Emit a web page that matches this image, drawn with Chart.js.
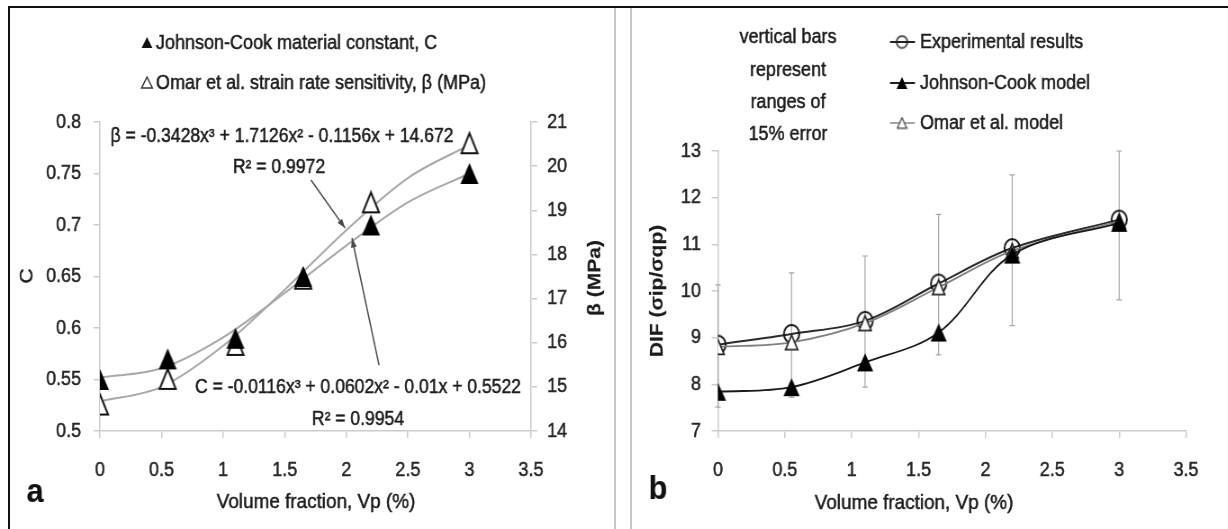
<!DOCTYPE html>
<html>
<head>
<meta charset="utf-8">
<script src="https://cdn.jsdelivr.net/npm/chart.js@4.4.0/dist/chart.umd.min.js"></script>
<style>
  body { margin: 0; background: #fff; width: 1228px; height: 529px; overflow: hidden; position: relative; }
  canvas { position: absolute; top: 0; transform: scaleX(0.9); transform-origin: 0 0; }
  #chartA { left: 0; }
  #chartB { left: 614px; }
  .ln { position: absolute; pointer-events: none; }
</style>
</head>
<body>
<canvas id="chartA" width="682" height="529"></canvas>
<canvas id="chartB" width="682" height="529"></canvas>
<div class="ln" style="left:8px;top:6px;width:1220px;height:2px;background:#111"></div>
<div class="ln" style="left:8px;top:6px;width:2px;height:523px;background:#111"></div>
<div class="ln" style="left:614px;top:8px;width:2px;height:521px;background:#c8c8c8"></div>
<div class="ln" style="left:630px;top:8px;width:2px;height:521px;background:#c8c8c8"></div>
<script>
// panel a data
const volFrac = [0, 0.55, 1.1, 1.65, 2.2, 3.0];
const jcConstC = [0.55, 0.57, 0.59, 0.65, 0.70, 0.75];
const omarBeta = [14.6, 15.18, 15.95, 17.45, 19.18, 20.52];
const trendX = [0, 0.5, 1, 1.5, 2, 2.5, 3];
const trendC = [0.552, 0.561, 0.591, 0.634, 0.680, 0.722, 0.750];
const trendBeta = [14.67, 15.0, 15.93, 17.2, 18.55, 19.73, 20.48];

// panel b data
const difExp = [8.85, 9.08, 9.36, 10.16, 10.92, 11.53];
const difJC = [7.84, 7.94, 8.47, 9.11, 10.78, 11.46];
const difOmar = [8.8, 8.9, 9.31, 10.08, 10.86, 11.5];
const errLow = [7.51, 7.72, 7.94, 8.63, 9.26, 9.81];
const errHigh = [10.13, 10.39, 10.75, 11.64, 12.49, 13.0];

// ticks
const xTicks = [0, 0.5, 1, 1.5, 2, 2.5, 3, 3.5];
const xTickLabels = ['0', '0.5', '1', '1.5', '2', '2.5', '3', '3.5'];
const cTicks = [0.5, 0.55, 0.6, 0.65, 0.7, 0.75, 0.8];
const cTickLabels = ['0.5', '0.55', '0.6', '0.65', '0.7', '0.75', '0.8'];
const betaTicks = [14, 15, 16, 17, 18, 19, 20, 21];
const betaTickLabels = ['14', '15', '16', '17', '18', '19', '20', '21'];
const difTicks = [7, 8, 9, 10, 11, 12, 13];
const difTickLabels = ['7', '8', '9', '10', '11', '12', '13'];

// canvases are squeezed horizontally by css (scaleX), like the original figure
const K = 0.9;
const FONT = '"Liberation Sans", Arial, sans-serif';
const INK = '#1c1c1c';
Chart.defaults.font.family = FONT;
Chart.defaults.font.size = 20;
Chart.defaults.color = '#262626';

function pts(xs, ys) { return xs.map((x, i) => ({ x: x, y: ys[i] })); }

// marker images
function triMark(w, h, fill, stroke, lw) {
  const c = document.createElement('canvas');
  c.width = w + 2 * lw; c.height = h + 2 * lw;
  const g = c.getContext('2d');
  g.beginPath();
  g.moveTo(c.width / 2, lw);
  g.lineTo(c.width - lw, c.height - lw);
  g.lineTo(lw, c.height - lw);
  g.closePath();
  g.fillStyle = fill; g.fill();
  if (stroke) { g.lineWidth = lw; g.strokeStyle = stroke; g.stroke(); }
  return c;
}
function ellMark(w, h, stroke, lw) {
  const c = document.createElement('canvas');
  c.width = w + 2 * lw; c.height = h + 2 * lw;
  const g = c.getContext('2d');
  g.beginPath();
  g.ellipse(c.width / 2, c.height / 2, w / 2, h / 2, 0, 0, Math.PI * 2);
  g.lineWidth = lw; g.strokeStyle = stroke; g.stroke();
  return c;
}

function axis(pos, min, max, ticks, labels, fit, pad) {
  return {
    type: 'linear', position: pos, min: min, max: max,
    afterBuildTicks: s => { s.ticks = ticks.map(v => ({ value: v })); },
    afterFit: fit,
    ticks: { callback: (v, i) => labels[i], padding: pad, color: '#262626',
             textStrokeColor: '#262626', textStrokeWidth: 0.5 },
    grid: { drawOnChartArea: false, drawTicks: true, tickLength: 7, color: '#cccccc', lineWidth: 1.5 },
    border: { color: '#cccccc', width: 1.5 }
  };
}

function txt(ctx, s, x, y, opt) {
  opt = opt || {};
  ctx.save();
  ctx.font = (opt.weight || 'normal') + ' ' + (opt.size || 20) + 'px ' + FONT;
  ctx.fillStyle = opt.color || INK;
  ctx.strokeStyle = opt.color || INK;
  ctx.lineWidth = opt.weight ? 0.2 : 0.5;
  ctx.textAlign = opt.align || 'center';
  ctx.textBaseline = 'middle';
  ctx.translate(x, y);
  if (opt.rot) ctx.rotate(opt.rot);
  ctx.fillText(s, 0, 0);
  ctx.strokeText(s, 0, 0);
  ctx.restore();
}

function arrow(ctx, x1, y1, x2, y2) {
  const a = Math.atan2(y2 - y1, x2 - x1);
  ctx.save();
  ctx.strokeStyle = '#4a4a4a'; ctx.fillStyle = '#4a4a4a'; ctx.lineWidth = 1.5;
  ctx.beginPath(); ctx.moveTo(x1, y1); ctx.lineTo(x2, y2); ctx.stroke();
  ctx.beginPath();
  ctx.moveTo(x2, y2);
  ctx.lineTo(x2 - 10 * Math.cos(a - 0.33), y2 - 10 * Math.sin(a - 0.33));
  ctx.lineTo(x2 - 10 * Math.cos(a + 0.33), y2 - 10 * Math.sin(a + 0.33));
  ctx.closePath(); ctx.fill();
  ctx.restore();
}

function smallTri(ctx, x, y, filled) {
  ctx.save();
  ctx.beginPath();
  ctx.moveTo(x, y - 6); ctx.lineTo(x + 6, y + 5); ctx.lineTo(x - 6, y + 5); ctx.closePath();
  if (filled) { ctx.fillStyle = '#111'; ctx.fill(); }
  else { ctx.strokeStyle = '#333'; ctx.lineWidth = 1.5; ctx.stroke(); }
  ctx.restore();
}

// ---- panel a ----
const XA = p => p / K;
const annotA = {
  id: 'annotA',
  afterDraw(chart) {
    const ctx = chart.ctx, sx = chart.scales.x, sy = chart.scales.y;
    smallTri(ctx, XA(147), 43, true);
    txt(ctx, 'Johnson-Cook material constant, C', XA(156), 43, { align: 'left' });
    smallTri(ctx, XA(147), 83, false);
    txt(ctx, 'Omar et al. strain rate sensitivity, β (MPa)', XA(156), 83, { align: 'left' });
    txt(ctx, 'β = -0.3428x³ + 1.7126x² - 0.1156x + 14.672', XA(282), 137, { size: 19.5 });
    txt(ctx, 'R² = 0.9972', XA(279), 168, { size: 19.5 });
    txt(ctx, 'C = -0.0116x³ + 0.0602x² - 0.01x + 0.5522', XA(358), 388, { size: 19.5 });
    txt(ctx, 'R² = 0.9954', XA(358), 420, { size: 19.5 });
    arrow(ctx, sx.getPixelForValue(1.713), sy.getPixelForValue(0.7437), sx.getPixelForValue(1.99), sy.getPixelForValue(0.697));
    arrow(ctx, sx.getPixelForValue(2.266), sy.getPixelForValue(0.564), sx.getPixelForValue(2.046), sy.getPixelForValue(0.6874));
    txt(ctx, 'C', XA(27), 276, { rot: -Math.PI / 2, size: 21 });
    txt(ctx, 'β (MPa)', XA(595), 278, { rot: -Math.PI / 2, weight: 'bold', size: 21 });
    txt(ctx, 'Volume fraction, Vp (%)', XA(316), 502, { size: 21 });
    txt(ctx, 'a', XA(35), 493, { weight: 'bold', size: 34, color: '#111' });
  }
};

new Chart(document.getElementById('chartA'), {
  type: 'scatter',
  data: {
    datasets: [
      { label: 'Johnson-Cook material constant, C', data: pts(volFrac, jcConstC), yAxisID: 'y',
        pointStyle: triMark(20, 21, '#000', null, 1), pointRadius: 6 },
      { label: 'Omar et al. strain rate sensitivity, β (MPa)', data: pts(volFrac, omarBeta), yAxisID: 'y1',
        pointStyle: triMark(18, 20, '#fff', '#111', 2), pointRadius: 6 },
      { label: 'C fit', data: pts(trendX, trendC), yAxisID: 'y', showLine: true, pointRadius: 0,
        borderColor: '#a8a8a8', borderWidth: 2, cubicInterpolationMode: 'monotone' },
      { label: 'beta fit', data: pts(trendX, trendBeta), yAxisID: 'y1', showLine: true, pointRadius: 0,
        borderColor: '#a8a8a8', borderWidth: 2, cubicInterpolationMode: 'monotone' }
    ]
  },
  options: {
    responsive: false, animation: false, devicePixelRatio: 1,
    layout: { padding: { top: 122, left: 0, right: 0, bottom: 0 } },
    plugins: { legend: { display: false }, tooltip: { enabled: false } },
    scales: {
      x: axis('bottom', 0, 3.5, xTicks, xTickLabels, s => { s.height = 98; }, 20),
      y: axis('left', 0.5, 0.8, cTicks, cTickLabels, s => { s.width = 100 / K; }, 14),
      y1: axis('right', 14, 21, betaTicks, betaTickLabels, s => { s.width = 682 - 531 / K; }, 11)
    }
  },
  plugins: [annotA]
});

// ---- panel b ----
const XB = p => (p - 614) / K;
const jcMark = triMark(18, 18, '#000', null, 1);
const omarMark = triMark(14, 15, '#fff', '#222', 1.7);
const expMark = ellMark(17, 18, '#111', 2);

const annotB = {
  id: 'annotB',
  beforeDatasetsDraw(chart) {
    const ctx = chart.ctx, sx = chart.scales.x, sy = chart.scales.y;
    ctx.save();
    ctx.strokeStyle = '#a6a6a6'; ctx.lineWidth = 1.2;
    volFrac.forEach((v, i) => {
      const x = sx.getPixelForValue(v), lo = sy.getPixelForValue(errLow[i]), hi = sy.getPixelForValue(errHigh[i]);
      ctx.beginPath();
      ctx.moveTo(x, lo); ctx.lineTo(x, hi);
      ctx.moveTo(x - 3, lo); ctx.lineTo(x + 3, lo);
      ctx.moveTo(x - 3, hi); ctx.lineTo(x + 3, hi);
      ctx.stroke();
    });
    ctx.restore();
  },
  afterDraw(chart) {
    const ctx = chart.ctx;
    txt(ctx, 'vertical bars', XB(788), 37);
    txt(ctx, 'represent', XB(788), 70);
    txt(ctx, 'ranges of', XB(788), 102);
    txt(ctx, '15% error', XB(788), 134);
    const rows = [
      ['Experimental results', '#222', 2, ellMark(12, 12, '#222', 1.6), 42],
      ['Johnson-Cook model', '#222', 2, triMark(12, 12, '#000', null, 1), 83],
      ['Omar et al. model', '#888', 1.5, triMark(11, 11, '#fff', '#444', 1.3), 123]
    ];
    rows.forEach(r => {
      ctx.save();
      ctx.strokeStyle = r[1]; ctx.lineWidth = r[2];
      ctx.beginPath(); ctx.moveTo(XB(890), r[4]); ctx.lineTo(XB(915), r[4]); ctx.stroke();
      ctx.drawImage(r[3], XB(902) - r[3].width / 2, r[4] - r[3].height / 2);
      ctx.restore();
      txt(ctx, r[0], XB(920), r[4], { align: 'left' });
    });
    txt(ctx, 'DIF (σip/σqp)', XB(657), 291, { rot: -Math.PI / 2, weight: 'bold', size: 21 });
    txt(ctx, 'Volume fraction, Vp (%)', XB(914), 503, { size: 21 });
    txt(ctx, 'b', XB(658), 490, { weight: 'bold', size: 34, color: '#111' });
  }
};

new Chart(document.getElementById('chartB'), {
  type: 'scatter',
  data: {
    datasets: [
      { label: 'Johnson-Cook model', data: pts(volFrac, difJC), showLine: true, tension: 0.35,
        borderColor: '#1a1a1a', borderWidth: 1.8, pointStyle: jcMark, pointRadius: 6 },
      { label: 'Omar et al. model', data: pts(volFrac, difOmar), showLine: true, tension: 0.35,
        borderColor: '#808080', borderWidth: 1.8, pointStyle: omarMark, pointRadius: 6 },
      { label: 'Experimental results', data: pts(volFrac, difExp), showLine: true, tension: 0.35,
        borderColor: '#2a2a2a', borderWidth: 2, pointStyle: expMark, pointRadius: 6 }
    ]
  },
  options: {
    responsive: false, animation: false, devicePixelRatio: 1,
    layout: { padding: { top: 151, left: 0, right: 682 - (1186 - 614) / K, bottom: 0 } },
    plugins: { legend: { display: false }, tooltip: { enabled: false } },
    scales: {
      x: axis('bottom', 0, 3.5, xTicks, xTickLabels, s => { s.height = 98; }, 20),
      y: axis('left', 7, 13, difTicks, difTickLabels, s => { s.width = (718 - 614) / K; }, 12)
    }
  },
  plugins: [annotB]
});
</script>
</body>
</html>
